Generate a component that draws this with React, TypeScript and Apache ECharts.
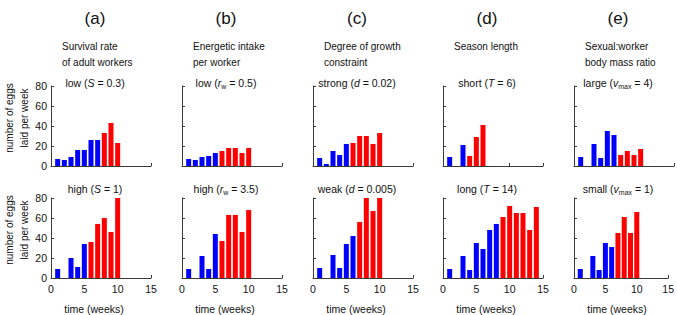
import React, { useEffect, useRef } from "react";
import * as echarts from "echarts";

// ---- data (weeks 1..N) ----
const panelLetters = ["(a)", "(b)", "(c)", "(d)", "(e)"];
const panelSubtitles = [
  ["Survival rate", "of adult workers"],
  ["Energetic intake", "per worker"],
  ["Degree of growth", "constraint"],
  ["Season length", ""],
  ["Sexual:worker", "body mass ratio"],
];
const topTitles = [
  "low ({i|S} = 0.3)",
  "low ({i|r}{sub|w} = 0.5)",
  "strong ({i|d} = 0.02)",
  "short ({i|T} = 6)",
  "large ({i|v}{sub|max} = 4)",
];
const bottomTitles = [
  "high ({i|S} = 1)",
  "high ({i|r}{sub|w} = 3.5)",
  "weak ({i|d} = 0.005)",
  "long ({i|T} = 14)",
  "small ({i|v}{sub|max} = 1)",
];
const yAxisTitleLines = ["number of eggs", "laid per week"];
const xAxisTitle = "time (weeks)";

const survivalLow = [7, 6, 9, 16, 16, 26, 26, 33, 43, 23];
const survivalHigh = [9, 0, 20, 11, 34, 36, 54, 60, 46, 80];
const intakeLow = [7, 6, 9, 10, 13, 15, 18, 18, 13, 18];
const intakeHigh = [9, 0, 22, 9, 44, 37, 63, 63, 46, 68];
const constraintStrong = [8, 2, 15, 11, 22, 23, 30, 30, 22, 33];
const constraintWeak = [10, 0, 23, 10, 34, 42, 56, 80, 67, 80];
const seasonShort = [9, 0, 21, 10, 29, 41];
const seasonLong = [9, 0, 22, 8, 35, 29, 48, 54, 61, 72, 65, 65, 48, 71];
const massLarge = [9, 0, 22, 8, 35, 31, 11, 15, 11, 17];
const massSmall = [9, 0, 22, 8, 35, 31, 45, 61, 45, 66];

// number of initial weeks producing workers (blue); later weeks are sexuals (red)
const topWorkerWeeks = [7, 5, 5, 3, 6];
const bottomWorkerWeeks = [5, 5, 6, 8, 6];

const topValues = [survivalLow, intakeLow, constraintStrong, seasonShort, massLarge];
const bottomValues = [survivalHigh, intakeHigh, constraintWeak, seasonLong, massSmall];

const BLUE = "#0000ff";
const RED = "#ff0000";
const FONT = "Liberation Sans";
const AXIS_COLOR = "#3a3a3a";

function toRich(t: string): string {
  const parts: string[] = [];
  let i = 0;
  let buf = "";
  while (i < t.length) {
    if (t[i] === "{") {
      if (buf) parts.push("{n|" + buf + "}");
      buf = "";
      const end = t.indexOf("}", i);
      parts.push(t.slice(i, end + 1));
      i = end + 1;
    } else {
      buf += t[i];
      i++;
    }
  }
  if (buf) parts.push("{n|" + buf + "}");
  return parts.join("");
}

export default function App() {
  const ref = useRef<HTMLDivElement>(null);

  useEffect(() => {
    if (!ref.current) return;
    const chart = echarts.init(ref.current, undefined, { renderer: "svg" });

    const lefts = [51, 182, 313, 443, 574];
    const rowTops = [86, 198];
    const grids: any[] = [];
    const xAxes: any[] = [];
    const yAxes: any[] = [];
    const series: any[] = [];
    const graphics: any[] = [];

    const rows = [
      { values: topValues, workers: topWorkerWeeks, titles: topTitles },
      { values: bottomValues, workers: bottomWorkerWeeks, titles: bottomTitles },
    ];

    const richStyles = {
      n: { fontFamily: FONT, fontSize: 10.5, fill: "#111", color: "#111", lineHeight: 14 },
      i: { fontFamily: FONT, fontSize: 10.5, fontStyle: "italic", fill: "#111", color: "#111", lineHeight: 14 },
      sub: { fontFamily: FONT, fontSize: 7, fill: "#111", color: "#111", lineHeight: 8, verticalAlign: "bottom" },
    };

    rows.forEach((row, r) => {
      row.values.forEach((vals, p) => {
        const idx = grids.length;
        grids.push({ left: lefts[p], top: rowTops[r], width: 100, height: 80 });
        xAxes.push({
          gridIndex: idx,
          type: "value",
          min: 0,
          max: 15,
          interval: 5,
          axisLine: { show: true, onZero: false, lineStyle: { color: AXIS_COLOR, width: 1 } },
          axisTick: { show: true, inside: true, length: 3, lineStyle: { color: AXIS_COLOR } },
          axisLabel: {
            show: r === 1,
            fontFamily: FONT,
            fontSize: 10.5,
            color: "#111",
            margin: 5,
          },
          splitLine: { show: false },
        });
        yAxes.push({
          gridIndex: idx,
          type: "value",
          min: 0,
          max: 80,
          interval: 20,
          axisLine: { show: true, lineStyle: { color: AXIS_COLOR, width: 1 } },
          axisTick: { show: true, inside: true, length: 3, lineStyle: { color: AXIS_COLOR } },
          axisLabel: {
            show: p === 0,
            fontFamily: FONT,
            fontSize: 10.5,
            color: "#111",
            margin: 4,
          },
          splitLine: { show: false },
        });
        series.push({
          type: "bar",
          xAxisIndex: idx,
          yAxisIndex: idx,
          barWidth: 5,
          clip: true,
          silent: true,
          data: vals.map((v, k) => ({
            value: [k + 1, v],
            itemStyle: { color: k < row.workers[p] ? BLUE : RED },
          })),
        });
        graphics.push({
          type: "text",
          x: lefts[p] + 44,
          y: r === 0 ? 83 : 189,
          style: {
            text: toRich(row.titles[p]),
            rich: richStyles,
            textAlign: "center",
            align: "center",
            textVerticalAlign: "middle",
            verticalAlign: "middle",
          },
        });
      });
    });

    // panel letters, subtitles, x-axis titles
    lefts.forEach((l, p) => {
      graphics.push({
        type: "text",
        x: l + 44,
        y: 18,
        style: {
          text: panelLetters[p],
          fontFamily: FONT,
          fontSize: 17,
          fill: "#111",
          textAlign: "center",
          align: "center",
          textVerticalAlign: "middle",
          verticalAlign: "middle",
        },
      });
      panelSubtitles[p].forEach((line, k) => {
        if (!line) return;
        graphics.push({
          type: "text",
          x: l + 11,
          y: 46 + k * 16,
          style: {
            text: line,
            fontFamily: FONT,
            fontSize: 10,
            fill: "#111",
            textAlign: "left",
            align: "left",
            textVerticalAlign: "middle",
            verticalAlign: "middle",
          },
        });
      });
      graphics.push({
        type: "text",
        x: l + 43,
        y: 309,
        style: {
          text: xAxisTitle,
          fontFamily: FONT,
          fontSize: 10.5,
          fill: "#111",
          textAlign: "center",
          align: "center",
          textVerticalAlign: "middle",
          verticalAlign: "middle",
        },
      });
    });

    // y-axis titles drawn by a custom series (rotated text elements)
    const yTitleCenters = [118, 230];
    series.push({
      type: "custom",
      coordinateSystem: "none",
      silent: true,
      z: 10,
      data: yTitleCenters.map((c) => [c]),
      renderItem: (params: any, api: any) => {
        const cy = api.value(0);
        return {
          type: "group",
          children: yAxisTitleLines.map((line, k) => ({
            type: "text",
            x: 9 + k * 15,
            y: cy,
            rotation: Math.PI / 2,
            style: {
              text: line,
              fontFamily: FONT,
              fontSize: 10,
              fill: "#111",
              align: "center",
              verticalAlign: "middle",
            },
          })),
        };
      },
    });

    chart.setOption({
      animation: false,
      backgroundColor: "#ffffff",
      grid: grids,
      xAxis: xAxes,
      yAxis: yAxes,
      series,
      graphic: { elements: graphics },
    });

    return () => chart.dispose();
  }, []);

  return (
    <div
      ref={ref}
      style={{ position: "fixed", left: 0, top: 0, width: 677, height: 315 }}
    />
  );
}
